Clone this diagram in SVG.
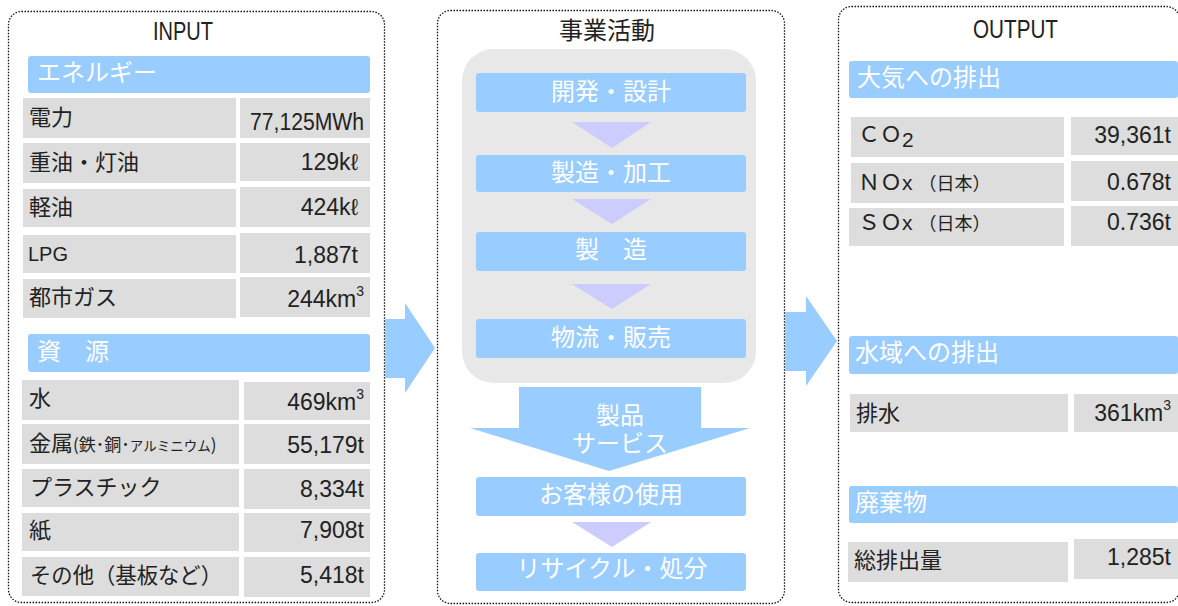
<svg xmlns="http://www.w3.org/2000/svg" width="1178" height="606" viewBox="0 0 1178 606">
<style>
.panel{fill:none;stroke:#111;stroke-width:1.3;stroke-dasharray:1.5 1.5}
.hdr{fill:#99CCFF}
.cell{fill:#DDDDDD}
.tri{fill:#CCCCFF}
.flow{fill:#99CCFF}
.ttl{font-family:"Liberation Sans",Arial,sans-serif;font-size:25px;fill:#222}
.jt{font-family:"Noto Sans CJK JP",sans-serif;font-size:24px;fill:#222}
.ht{font-family:"Noto Sans CJK JP",sans-serif;font-size:24px;fill:#fff}
.lb{font-family:"Noto Sans CJK JP",sans-serif;font-size:22px;fill:#222}
.lat{font-family:"Liberation Sans",Arial,sans-serif;font-size:21px;fill:#222}
.val{font-family:"Liberation Sans",Arial,sans-serif;font-size:23px;fill:#222;text-anchor:end}
.sup{font-size:14px}
.ct{text-anchor:middle}
</style>

<!-- INPUT panel -->
<g id="input-panel">
  <rect class="panel" x="8.5" y="11.5" width="376" height="591" rx="13"/>
  <text class="ttl" x="153" y="40" textLength="60" lengthAdjust="spacingAndGlyphs">INPUT</text>
</g>
<g id="energy-header">
  <rect class="hdr" x="28" y="56" width="342" height="37" rx="3"/>
  <text class="ht" x="37" y="81">エネルギー</text>
</g>
<g id="row-electricity">
  <rect class="cell" x="23" y="98" width="213" height="40"/>
  <rect class="cell" x="240" y="98" width="130" height="40"/>
  <text class="lb" x="29" y="125">電力</text>
  <text class="val" x="364" y="130" textLength="114" lengthAdjust="spacingAndGlyphs">77,125MWh</text>
</g>
<g id="row-oil">
  <rect class="cell" x="23" y="143" width="213" height="40"/>
  <rect class="cell" x="240" y="143" width="130" height="38"/>
  <text class="lb" x="29" y="170">重油・灯油</text>
  <text class="val" x="358" y="170">129kℓ</text>
</g>
<g id="row-diesel">
  <rect class="cell" x="23" y="189" width="213" height="38"/>
  <rect class="cell" x="240" y="187" width="130" height="40"/>
  <text class="lb" x="29" y="215">軽油</text>
  <text class="val" x="358" y="215">424kℓ</text>
</g>
<g id="row-lpg">
  <rect class="cell" x="23" y="235" width="213" height="38"/>
  <rect class="cell" x="240" y="233" width="130" height="40"/>
  <text class="lat" x="28" y="261" font-size="22" textLength="40" lengthAdjust="spacingAndGlyphs">LPG</text>
  <text class="val" x="358" y="263">1,887t</text>
</g>
<g id="row-gas">
  <rect class="cell" x="23" y="279" width="213" height="39"/>
  <rect class="cell" x="240" y="277" width="130" height="40"/>
  <text class="lb" x="29" y="305">都市ガス</text>
  <text class="val" x="364" y="307">244km<tspan class="sup" dy="-11">3</tspan></text>
</g>
<g id="resource-header">
  <rect class="hdr" x="28" y="334" width="342" height="38" rx="3"/>
  <text class="ht" x="37" y="360">資　源</text>
</g>
<g id="row-water">
  <rect class="cell" x="22" y="380" width="217" height="40"/>
  <rect class="cell" x="244" y="382" width="126" height="38"/>
  <text class="lb" x="29" y="406">水</text>
  <text class="val" x="364" y="410">469km<tspan class="sup" dy="-11">3</tspan></text>
</g>
<g id="row-metal">
  <rect class="cell" x="22" y="424" width="217" height="40"/>
  <rect class="cell" x="244" y="424" width="126" height="40"/>
  <text class="lb" x="29" y="451">金属<tspan font-size="17">(鉄･銅･</tspan><tspan font-size="13.5">アルミニウム</tspan><tspan font-size="17">)</tspan></text>
  <text class="val" x="364" y="453">55,179t</text>
</g>
<g id="row-plastic">
  <rect class="cell" x="22" y="469" width="217" height="38"/>
  <rect class="cell" x="244" y="469" width="126" height="40"/>
  <text class="lb" x="30" y="495">プラスチック</text>
  <text class="val" x="364" y="497">8,334t</text>
</g>
<g id="row-paper">
  <rect class="cell" x="22" y="513" width="217" height="38"/>
  <rect class="cell" x="244" y="513" width="126" height="39"/>
  <text class="lb" x="29" y="538">紙</text>
  <text class="val" x="364" y="538">7,908t</text>
</g>
<g id="row-other">
  <rect class="cell" x="22" y="557" width="217" height="39"/>
  <rect class="cell" x="244" y="557" width="126" height="40"/>
  <text class="lb" x="30" y="583" textLength="192" lengthAdjust="spacingAndGlyphs">その他（基板など）</text>
  <text class="val" x="364" y="583">5,418t</text>
</g>

<!-- Business activities panel -->
<g id="activity-panel">
  <rect class="panel" x="437.5" y="10.5" width="347" height="593" rx="13"/>
  <text class="jt ct" x="607" y="39">事業活動</text>
  <rect x="462" y="49" width="294" height="334" rx="32" fill="#E8E8E8"/>
</g>
<g id="node-design">
  <rect class="hdr" x="476" y="73" width="270" height="39" rx="3"/>
  <text class="ht ct" x="611" y="100">開発・設計</text>
</g>
<g id="node-processing">
  <rect class="hdr" x="476" y="155" width="270" height="37" rx="3"/>
  <text class="ht ct" x="611" y="181">製造・加工</text>
</g>
<g id="node-manufacture">
  <rect class="hdr" x="476" y="232" width="270" height="39" rx="3"/>
  <text class="ht ct" x="611" y="258">製　造</text>
</g>
<g id="node-logistics">
  <rect class="hdr" x="476" y="319" width="270" height="39" rx="3"/>
  <text class="ht ct" x="611" y="346">物流・販売</text>
</g>
<g id="node-product">
  <polygon class="flow" points="519,387 701,387 701,428 750,428 609,471 470,428 519,428"/>
  <text class="ht ct" x="620" y="424">製品<tspan x="620" dy="28">サービス</tspan></text>
</g>
<g id="node-use">
  <rect class="hdr" x="476" y="477" width="270" height="39" rx="3"/>
  <text class="ht ct" x="611" y="503">お客様の使用</text>
</g>
<g id="node-recycle">
  <rect class="hdr" x="476" y="553" width="270" height="38" rx="3"/>
  <text class="ht ct" x="612" y="577">リサイクル・処分</text>
</g>

<!-- OUTPUT panel -->
<g id="output-panel">
  <rect class="panel" x="838.5" y="6.5" width="341" height="596" rx="13"/>
  <text class="ttl" x="973" y="38" textLength="85" lengthAdjust="spacingAndGlyphs">OUTPUT</text>
</g>
<g id="air-header">
  <rect class="hdr" x="849" y="61" width="329" height="37" rx="3"/>
  <text class="ht" x="857" y="86">大気への排出</text>
</g>
<g id="row-co2">
  <rect class="cell" x="851" y="117" width="213" height="40"/>
  <rect class="cell" x="1071" y="117" width="107" height="38"/>
  <text class="lb" x="858" y="142">ＣＯ<tspan class="lat" font-size="13" dy="5">2</tspan></text>
  <text class="val" x="1171" y="143">39,361t</text>
</g>
<g id="row-nox">
  <rect class="cell" x="851" y="163" width="213" height="40"/>
  <rect class="cell" x="1071" y="161" width="107" height="40"/>
  <text class="lb" x="858" y="190">ＮＯ<tspan class="lat">x</tspan><tspan font-size="18" dx="6">（日本）</tspan></text>
  <text class="val" x="1171" y="190">0.678t</text>
</g>
<g id="row-sox">
  <rect class="cell" x="849" y="208" width="215" height="38"/>
  <rect class="cell" x="1071" y="206" width="107" height="40"/>
  <text class="lb" x="858" y="230">ＳＯ<tspan class="lat">x</tspan><tspan font-size="18" dx="6">（日本）</tspan></text>
  <text class="val" x="1171" y="230">0.736t</text>
</g>
<g id="water-header">
  <rect class="hdr" x="849" y="336" width="329" height="38" rx="3"/>
  <text class="ht" x="855" y="361">水域への排出</text>
</g>
<g id="row-drain">
  <rect class="cell" x="850" y="394" width="218" height="38"/>
  <rect class="cell" x="1074" y="394" width="104" height="38"/>
  <text class="lb" x="856" y="421">排水</text>
  <text class="val" x="1171" y="421">361km<tspan class="sup" dy="-11">3</tspan></text>
</g>
<g id="waste-header">
  <rect class="hdr" x="849" y="486" width="329" height="37" rx="3"/>
  <text class="ht" x="855" y="511">廃棄物</text>
</g>
<g id="row-waste">
  <rect class="cell" x="848" y="542" width="220" height="40"/>
  <rect class="cell" x="1074" y="539" width="104" height="40"/>
  <text class="lb" x="854" y="568">総排出量</text>
  <text class="val" x="1171" y="565">1,285t</text>
</g>

<!-- connectors -->
<g id="connectors">
  <polygon class="flow" points="385,319 405,319 405,303 435,348 405,393 405,378 385,378"/>
  <polygon class="flow" points="785,312 806,312 806,296 837,341 806,386 806,371 785,371"/>
  <polygon class="tri" points="572,122 651,122 612,148"/>
  <polygon class="tri" points="572,199 651,199 612,224"/>
  <polygon class="tri" points="572,284 651,284 612,309"/>
  <polygon class="tri" points="572,522 651,522 612,547"/>
</g>
</svg>
